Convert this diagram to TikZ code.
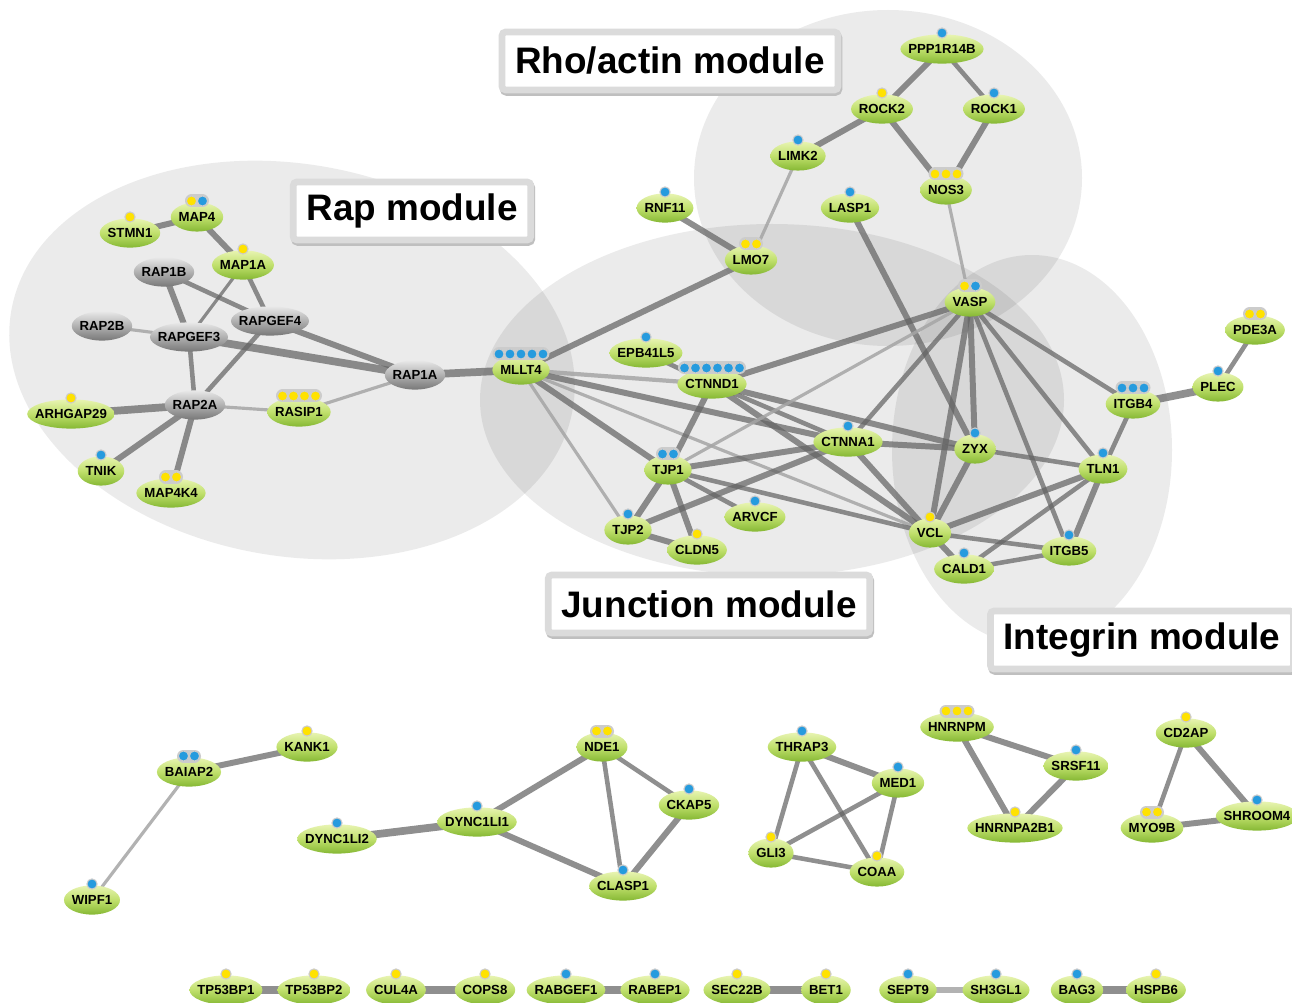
\documentclass[tikz,border=0pt]{standalone}
\usepackage{fontspec}
\setmainfont{Liberation Sans}
\usetikzlibrary{calc}

\definecolor{hitY}{RGB}{255,226,0}
\definecolor{hitB}{RGB}{38,155,222}
\definecolor{linkgrey}{RGB}{100,100,100}
\definecolor{weakgrey}{RGB}{165,165,165}
\definecolor{leafTop}{RGB}{232,244,178}
\definecolor{leafMid}{RGB}{192,224,108}
\definecolor{leafBot}{RGB}{134,184,52}
\definecolor{stoneTop}{RGB}{232,232,232}
\definecolor{stoneMid}{RGB}{176,176,176}
\definecolor{stoneBot}{RGB}{120,120,120}

\pgfdeclarelayer{modules}
\pgfdeclarelayer{links}
\pgfdeclarelayer{blobs}
\pgfsetlayers{modules,links,blobs,main}

\tikzset{
    genetext/.style={font=\fontsize{7.5}{8}\selectfont\bfseries, inner sep=0pt, text height=5.4pt, text depth=0pt},
    leaf/.style={top color=leafTop, bottom color=leafBot, middle color=leafMid},
    stone/.style={top color=stoneTop, bottom color=stoneBot, middle color=stoneMid},
    module/.style={fill=black, fill opacity=0.08},
    modlabel/.style={
        fill=white,
        draw=gray!28,
        line width=3.8pt,
        rounded corners=2pt,
        inner xsep=7.5pt,
        minimum height=33pt,
        preaction={draw=gray!50, line width=3.8pt, transform canvas={xshift=0.6pt, yshift=-1.4pt}},
        font=\fontsize{21}{24}\selectfont\bfseries},
    link/.style={draw=linkgrey, draw opacity=0.72},
    thinlink/.style={link, line width=1.8pt},
    midlink/.style={link, line width=2.6pt},
    thicklink/.style={link, line width=3.4pt},
    heavylink/.style={link, line width=4.4pt},
    weaklink/.style={draw=weakgrey, draw opacity=0.85, line width=1.8pt},
    hitrail/.style={draw=gray!40, line width=7.4pt, line cap=round},
    hitdot/.style={draw=gray!40, line width=0.6pt},
}

% gene node: text plus a shaded ellipse behind it
\newcommand\protein[4][leaf]{%
    \node[genetext] (#2) at (#3,#4) {#2};
    \begin{pgfonlayer}{blobs}
        \shade[#1] let \p1 = ($(#2.east)-(#2.west)$) in
            (#2.center) ellipse [x radius={0.5*\x1+4.3pt}, y radius=8.3pt];
    \end{pgfonlayer}%
}

% row of hit dots above a gene node: node, count, colours
\newcommand\hits[3]{%
    \ifnum#2>1
        \draw[hitrail] ($(#1.center)+({-(#2-1)*5.5},-16)$) -- ($(#1.center)+({(#2-1)*5.5},-16)$);
    \fi
    \foreach \col [count=\k] in {#3}
        \filldraw[hitdot, fill=\col] ($(#1.center)+({(\k-1)*11-(#2-1)*5.5},-16)$) circle (2.9pt);
}

\begin{document}
\begin{tikzpicture}[x=0.02cm, y=-0.02cm]

\useasboundingbox (0,0) rectangle (1292,1003);

% Module areas
\begin{pgfonlayer}{modules}
    \fill[white] (0,0) rectangle (1292,1003);
    \fill[module, rotate around={-10:(292,360)}] (292,360) ellipse [x radius=285, y radius=196];
    \fill[module] (772,400) ellipse [x radius=292, y radius=176];
    \fill[module] (888,178) ellipse [x radius=194, y radius=168];
    \fill[module] (1032,450) ellipse [x radius=140, y radius=195];
\end{pgfonlayer}

% Module titles
\node[modlabel] (rhoLabel) at (670,61) {Rho/actin module};
\node[modlabel] (rapLabel) at (412,211) {Rap module};
\node[modlabel] (junctionLabel) at (709,604) {Junction module};
\node[modlabel] (integrinLabel) at (1142,640) {Integrin module};

% Rap module
\protein{MAP4}{197}{217}
\protein{STMN1}{130}{233}
\protein{MAP1A}{243}{265}
\protein[stone]{RAP1B}{164}{272}
\protein[stone]{RAP2B}{102}{326}
\protein[stone]{RAPGEF3}{189}{337}
\protein[stone]{RAPGEF4}{270}{321}
\protein[stone]{RAP1A}{415}{375}
\protein[stone]{RAP2A}{195}{405}
\protein{ARHGAP29}{71}{414}
\protein{RASIP1}{299}{412}
\protein{TNIK}{101}{471}
\protein{MAP4K4}{171}{493}

% Rho/actin module
\protein{PPP1R14B}{942}{49}
\protein{ROCK2}{882}{109}
\protein{ROCK1}{994}{109}
\protein{LIMK2}{798}{156}
\protein{NOS3}{946}{190}
\protein{RNF11}{665}{208}
\protein{LASP1}{850}{208}
\protein{LMO7}{751}{260}
\protein{VASP}{970}{302}

% Junction module
\protein{MLLT4}{521}{370}
\protein{EPB41L5}{646}{353}
\protein{CTNND1}{712}{384}
\protein{CTNNA1}{848}{442}
\protein{ZYX}{975}{449}
\protein{TJP1}{668}{470}
\protein{ARVCF}{755}{517}
\protein{TJP2}{628}{530}
\protein{CLDN5}{697}{550}
\protein{VCL}{930}{533}

% Integrin module
\protein{PDE3A}{1255}{330}
\protein{PLEC}{1218}{387}
\protein{ITGB4}{1133}{404}
\protein{TLN1}{1103}{469}
\protein{ITGB5}{1069}{551}
\protein{CALD1}{964}{569}

% Small groups
\protein{KANK1}{307}{747}
\protein{BAIAP2}{189}{772}
\protein{WIPF1}{92}{900}
\protein{NDE1}{602}{747}
\protein{CKAP5}{689}{805}
\protein{DYNC1LI1}{477}{822}
\protein{DYNC1LI2}{337}{839}
\protein{CLASP1}{623}{886}
\protein{THRAP3}{802}{747}
\protein{MED1}{898}{783}
\protein{GLI3}{771}{853}
\protein{COAA}{877}{872}
\protein{HNRNPM}{957}{727}
\protein{SRSF11}{1076}{766}
\protein{HNRNPA2B1}{1015}{828}
\protein{CD2AP}{1186}{733}
\protein{MYO9B}{1152}{828}
\protein{SHROOM4}{1257}{816}

% Pairs
\protein{TP53BP1}{226}{990}
\protein{TP53BP2}{314}{990}
\protein{CUL4A}{396}{990}
\protein{COPS8}{485}{990}
\protein{RABGEF1}{566}{990}
\protein{RABEP1}{655}{990}
\protein{SEC22B}{737}{990}
\protein{BET1}{826}{990}
\protein{SEPT9}{908}{990}
\protein{SH3GL1}{996}{990}
\protein{BAG3}{1077}{990}
\protein{HSPB6}{1156}{990}

% Hit dots
\hits{MAP4}{2}{hitY,hitB}
\hits{STMN1}{1}{hitY}
\hits{MAP1A}{1}{hitY}
\hits{ARHGAP29}{1}{hitY}
\hits{RASIP1}{4}{hitY,hitY,hitY,hitY}
\hits{TNIK}{1}{hitB}
\hits{MAP4K4}{2}{hitY,hitY}
\hits{PPP1R14B}{1}{hitB}
\hits{ROCK2}{1}{hitY}
\hits{ROCK1}{1}{hitB}
\hits{LIMK2}{1}{hitB}
\hits{NOS3}{3}{hitY,hitY,hitY}
\hits{RNF11}{1}{hitB}
\hits{LASP1}{1}{hitB}
\hits{LMO7}{2}{hitY,hitY}
\hits{VASP}{2}{hitY,hitB}
\hits{MLLT4}{5}{hitB,hitB,hitB,hitB,hitB}
\hits{EPB41L5}{1}{hitB}
\hits{CTNND1}{6}{hitB,hitB,hitB,hitB,hitB,hitB}
\hits{CTNNA1}{1}{hitB}
\hits{ZYX}{1}{hitB}
\hits{TJP1}{2}{hitB,hitB}
\hits{ARVCF}{1}{hitB}
\hits{TJP2}{1}{hitB}
\hits{CLDN5}{1}{hitY}
\hits{VCL}{1}{hitY}
\hits{PDE3A}{2}{hitY,hitY}
\hits{PLEC}{1}{hitB}
\hits{ITGB4}{3}{hitB,hitB,hitB}
\hits{TLN1}{1}{hitB}
\hits{ITGB5}{1}{hitB}
\hits{CALD1}{1}{hitB}
\hits{KANK1}{1}{hitY}
\hits{BAIAP2}{2}{hitB,hitB}
\hits{WIPF1}{1}{hitB}
\hits{NDE1}{2}{hitY,hitY}
\hits{CKAP5}{1}{hitB}
\hits{DYNC1LI1}{1}{hitB}
\hits{DYNC1LI2}{1}{hitB}
\hits{CLASP1}{1}{hitB}
\hits{THRAP3}{1}{hitB}
\hits{MED1}{1}{hitB}
\hits{GLI3}{1}{hitY}
\hits{COAA}{1}{hitY}
\hits{HNRNPM}{3}{hitY,hitY,hitY}
\hits{SRSF11}{1}{hitB}
\hits{HNRNPA2B1}{1}{hitY}
\hits{CD2AP}{1}{hitY}
\hits{MYO9B}{2}{hitY,hitY}
\hits{SHROOM4}{1}{hitB}
\hits{TP53BP1}{1}{hitY}
\hits{TP53BP2}{1}{hitY}
\hits{CUL4A}{1}{hitY}
\hits{COPS8}{1}{hitY}
\hits{RABGEF1}{1}{hitB}
\hits{RABEP1}{1}{hitB}
\hits{SEC22B}{1}{hitY}
\hits{BET1}{1}{hitY}
\hits{SEPT9}{1}{hitB}
\hits{SH3GL1}{1}{hitB}
\hits{BAG3}{1}{hitB}
\hits{HSPB6}{1}{hitY}

\begin{pgfonlayer}{links}
    % Rap module links
    \draw[thicklink] (STMN1) -- (MAP4);
    \draw[thicklink] (MAP4) -- (MAP1A);
    \draw[thinlink] (MAP1A) -- (RAPGEF3);
    \draw[midlink] (MAP1A) -- (RAPGEF4);
    \draw[thicklink] (RAP1B) -- (RAPGEF3);
    \draw[midlink] (RAP1B) -- (RAPGEF4);
    \draw[weaklink] (RAP2B) -- (RAPGEF3);
    \draw[heavylink] (RAPGEF3) -- (RAP1A);
    \draw[thicklink] (RAPGEF4) -- (RAP1A);
    \draw[midlink] (RAPGEF3) -- (RAP2A);
    \draw[midlink] (RAPGEF4) -- (RAP2A);
    \draw[heavylink] (RAP2A) -- (ARHGAP29);
    \draw[weaklink] (RAP2A) -- (RASIP1);
    \draw[weaklink] (RASIP1) -- (RAP1A);
    \draw[thicklink] (RAP2A) -- (TNIK);
    \draw[thicklink] (RAP2A) -- (MAP4K4);
    \draw[heavylink] (RAP1A) -- (MLLT4);

    % Rho/actin module links
    \draw[thicklink] (PPP1R14B) -- (ROCK2);
    \draw[midlink] (PPP1R14B) -- (ROCK1);
    \draw[thicklink] (ROCK2) -- (LIMK2);
    \draw[thicklink] (ROCK2) -- (NOS3);
    \draw[thicklink] (ROCK1) -- (NOS3);
    \draw[weaklink] (LIMK2) -- (LMO7);
    \draw[thicklink] (RNF11) -- (LMO7);
    \draw[weaklink] (NOS3) -- (VASP);
    \draw[thicklink] (LMO7) -- (MLLT4);
    \draw[thicklink] (LASP1) -- (ZYX);

    % Junction module links
    \draw[weaklink, line width=2.4pt] (MLLT4) -- (CTNND1);
    \draw[thicklink] (MLLT4) -- (CTNNA1);
    \draw[thicklink] (MLLT4) -- (TJP1);
    \draw[weaklink] (MLLT4) -- (TJP2);
    \draw[weaklink] (MLLT4) -- (VCL);
    \draw[midlink] (EPB41L5) -- (CTNND1);
    \draw[thicklink] (CTNND1) -- (VASP);
    \draw[thicklink] (CTNND1) -- (TJP1);
    \draw[thicklink] (CTNND1) -- (ZYX);
    \draw[midlink] (CTNND1) -- (CTNNA1);
    \draw[thicklink] (CTNND1) -- (VCL);
    \draw[weaklink] (TJP1) -- (VASP);
    \draw[thicklink] (TJP1) -- (CTNNA1);
    \draw[midlink] (TJP1) -- (VCL);
    \draw[midlink] (TJP1) -- (ARVCF);
    \draw[thicklink] (TJP1) -- (TJP2);
    \draw[thicklink] (TJP1) -- (CLDN5);
    \draw[thicklink] (TJP2) -- (CLDN5);
    \draw[thicklink] (TJP2) -- (CTNNA1);
    \draw[thicklink] (CTNNA1) -- (ZYX);
    \draw[thicklink] (CTNNA1) -- (VCL);
    \draw[midlink] (CTNNA1) -- (VASP);

    % Integrin module links
    \draw[thicklink] (VASP) -- (ZYX);
    \draw[thicklink] (VASP) -- (VCL);
    \draw[midlink] (VASP) -- (TLN1);
    \draw[midlink] (VASP) -- (ITGB5);
    \draw[midlink] (VASP) -- (ITGB4);
    \draw[thicklink] (ZYX) -- (VCL);
    \draw[midlink] (ZYX) -- (TLN1);
    \draw[thicklink] (VCL) -- (TLN1);
    \draw[midlink] (VCL) -- (ITGB5);
    \draw[thicklink] (VCL) -- (CALD1);
    \draw[midlink] (CALD1) -- (TLN1);
    \draw[midlink] (CALD1) -- (ITGB5);
    \draw[thicklink] (TLN1) -- (ITGB5);
    \draw[midlink] (TLN1) -- (ITGB4);
    \draw[heavylink] (ITGB4) -- (PLEC);
    \draw[midlink] (PLEC) -- (PDE3A);

    % Small groups
    \draw[thicklink] (BAIAP2) -- (KANK1);
    \draw[weaklink] (BAIAP2) -- (WIPF1);
    \draw[heavylink] (DYNC1LI2) -- (DYNC1LI1);
    \draw[thicklink] (DYNC1LI1) -- (NDE1);
    \draw[thicklink] (DYNC1LI1) -- (CLASP1);
    \draw[midlink] (NDE1) -- (CLASP1);
    \draw[midlink] (NDE1) -- (CKAP5);
    \draw[thicklink] (CKAP5) -- (CLASP1);
    \draw[thicklink] (THRAP3) -- (MED1);
    \draw[midlink] (THRAP3) -- (GLI3);
    \draw[midlink] (THRAP3) -- (COAA);
    \draw[midlink] (MED1) -- (GLI3);
    \draw[midlink] (MED1) -- (COAA);
    \draw[midlink] (GLI3) -- (COAA);
    \draw[thicklink] (HNRNPM) -- (SRSF11);
    \draw[thicklink] (HNRNPM) -- (HNRNPA2B1);
    \draw[thicklink] (SRSF11) -- (HNRNPA2B1);
    \draw[midlink] (CD2AP) -- (MYO9B);
    \draw[thicklink] (CD2AP) -- (SHROOM4);
    \draw[thicklink] (MYO9B) -- (SHROOM4);

    % Pairs
    \draw[heavylink] (TP53BP1) -- (TP53BP2);
    \draw[heavylink] (CUL4A) -- (COPS8);
    \draw[heavylink] (RABGEF1) -- (RABEP1);
    \draw[heavylink] (SEC22B) -- (BET1);
    \draw[weaklink, line width=3pt] (SEPT9) -- (SH3GL1);
    \draw[heavylink] (BAG3) -- (HSPB6);
\end{pgfonlayer}

\end{tikzpicture}
\end{document}
